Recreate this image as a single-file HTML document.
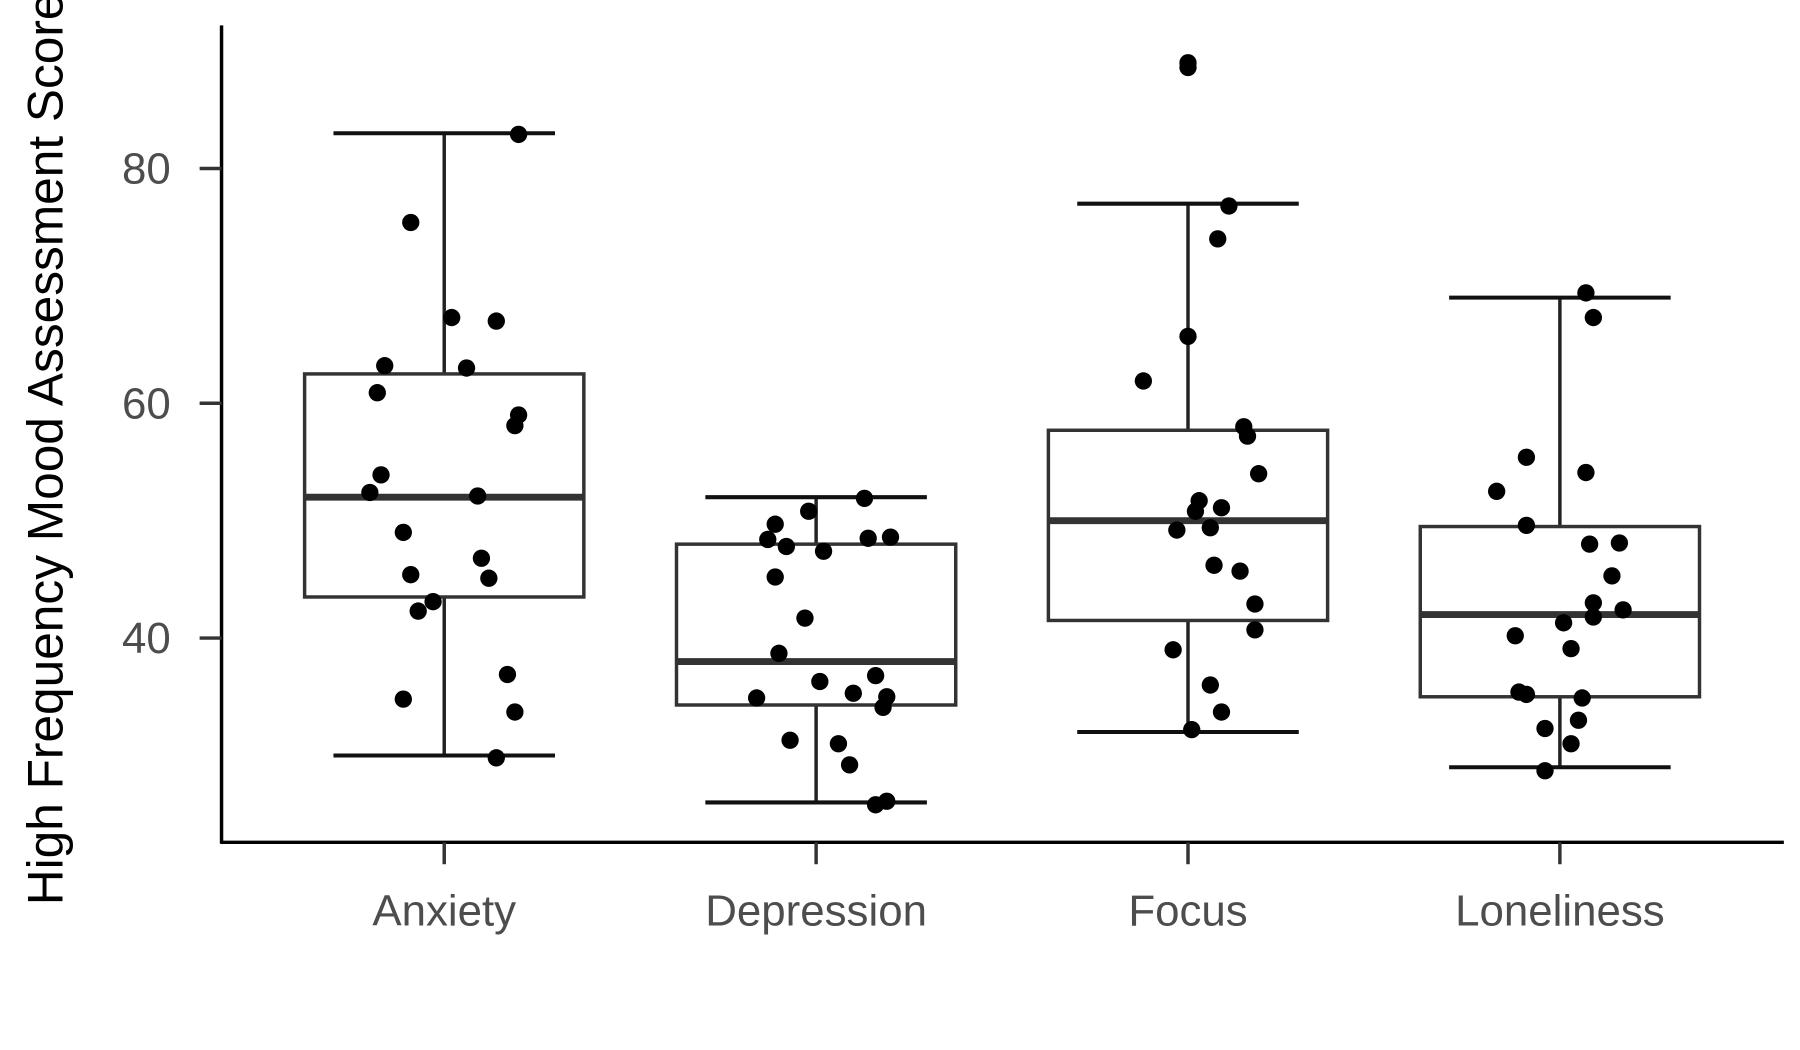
<!DOCTYPE html>
<html><head><meta charset="utf-8"><style>
html,body{margin:0;padding:0;background:#fff;width:1800px;height:1050px;overflow:hidden}
svg{display:block}
</style></head><body>
<svg id="chart" width="1800" height="1050" viewBox="0 0 1560 910" xmlns="http://www.w3.org/2000/svg">
<rect width="1560" height="910" fill="#fff"/>
<g id="axes"></g><g id="boxes"></g><g id="points"></g>
</svg>
<script>
const categories = ["Anxiety","Depression","Focus","Loneliness"];
const whiskerLow = [30, 26, 32, 29];
const q1 = [43.5, 34.3, 41.5, 35];
const medians = [52, 38, 50, 42];
const q3 = [62.5, 48, 57.7, 49.5];
const whiskerHigh = [83, 52, 77, 69];
const yTicks = [40, 60, 80];
const anxietyValues = [82.9,75.4,67.3,67.0,63.2,63.0,60.9,59.0,58.1,53.9,52.4,52.1,49.0,46.8,45.4,45.1,43.1,42.3,36.9,34.8,33.7,29.8];
const anxietyJitter = [.20,-.09,.02,.14,-.16,.06,-.18,.20,.19,-.17,-.20,.09,-.11,.10,-.09,.12,-.03,-.07,.17,-.11,.19,.14];
const depressionValues = [51.9,50.8,49.7,48.4,48.5,48.6,47.8,47.4,45.2,41.7,38.7,36.8,36.3,34.9,35.3,35.0,34.1,31.3,31.0,29.2,25.8,26.1];
const depressionJitter = [.13,-.02,-.11,-.13,.14,.20,-.08,.02,-.11,-.03,-.10,.16,.01,-.16,.10,.19,.18,-.07,.06,.09,.16,.19];
const focusValues = [89.0,88.6,76.8,74.0,65.7,61.9,58.0,57.2,54.0,51.7,51.1,50.8,49.2,49.4,46.2,45.7,42.9,40.7,39.0,36.0,33.7,32.2];
const focusJitter = [0,0,.11,.08,0,-.12,.15,.16,.19,.03,.09,.02,-.03,.06,.07,.14,.18,.18,-.04,.06,.09,.01];
const lonelinessValues = [69.4,67.3,55.4,54.1,52.5,49.6,48.0,48.1,45.3,43.0,41.8,42.4,41.3,40.2,39.1,35.4,35.2,34.9,33.0,32.3,31.0,28.7];
const lonelinessJitter = [.07,.09,-.09,.07,-.17,-.09,.08,.16,.14,.09,.09,.17,.01,-.12,.03,-.11,-.09,.06,.05,-.04,.03,-.04];

const NS = "http://www.w3.org/2000/svg";
function y(v){ return 553 - (v - 40) * 10.175; }
function x(i){ return 385 + i * 322.3; }
function mk(tag, attrs, parent){ const e = document.createElementNS(NS, tag); for (const k in attrs) e.setAttribute(k, attrs[k]); parent.appendChild(e); return e; }
const axes = document.getElementById('axes'), boxes = document.getElementById('boxes'), pts = document.getElementById('points');

let e = mk('line',{x1:192,y1:22,x2:192,y2:731,stroke:'#000','stroke-width':3},axes);
 
e = mk('line',{x1:191,y1:730,x2:1546,y2:730,stroke:'#000','stroke-width':3},axes);
 
yTicks.forEach(t => {
  const tk = mk('line',{x1:173,y1:y(t),x2:192,y2:y(t),stroke:'#333','stroke-width':3},axes);
   
  const lb = mk('text',{x:148,y:y(t)+13,'text-anchor':'end','font-family':'Liberation Sans, sans-serif','font-size':38,fill:'#4d4d4d'},axes);
  lb.textContent = t;
   
});
categories.forEach((c,i) => {
  const tk = mk('line',{x1:x(i),y1:730,x2:x(i),y2:749,stroke:'#333','stroke-width':3},axes);
   
  const lb = mk('text',{x:x(i),y:802,'text-anchor':'middle','font-family':'Liberation Sans, sans-serif','font-size':38,fill:'#4d4d4d'},axes);
  lb.textContent = c;
   
});
const yt = mk('text',{x:0,y:0,transform:'translate(54,389) rotate(-90)','text-anchor':'middle','font-family':'Liberation Sans, sans-serif','font-size':43,fill:'#000'},axes);
yt.textContent = 'High Frequency Mood Assessment Score';
 

categories.forEach((c,i) => {
  const cx = x(i), hw = 121, cw = 96;
  const g = mk('g',{},boxes);
   
  mk('line',{x1:cx,y1:y(whiskerHigh[i]),x2:cx,y2:y(q3[i]),stroke:'#222','stroke-width':3},g);
  mk('line',{x1:cx,y1:y(q1[i]),x2:cx,y2:y(whiskerLow[i]),stroke:'#222','stroke-width':3},g);
  mk('line',{x1:cx-cw,y1:y(whiskerHigh[i]),x2:cx+cw,y2:y(whiskerHigh[i]),stroke:'#111','stroke-width':3.5},g);
  mk('line',{x1:cx-cw,y1:y(whiskerLow[i]),x2:cx+cw,y2:y(whiskerLow[i]),stroke:'#111','stroke-width':3.5},g);
  mk('rect',{x:cx-hw,y:y(q3[i]),width:2*hw,height:y(q1[i])-y(q3[i]),fill:'#fff',stroke:'#333','stroke-width':3},g);
  mk('line',{x1:cx-hw,y1:y(medians[i]),x2:cx+hw,y2:y(medians[i]),stroke:'#333','stroke-width':6},g);
});
const allVals = [anxietyValues, depressionValues, focusValues, lonelinessValues];
const allJit = [anxietyJitter, depressionJitter, focusJitter, lonelinessJitter];
allVals.forEach((vals,i) => {
  vals.forEach((v,j) => {
    const p = mk('circle',{cx:x(i + allJit[i][j]),cy:y(v),r:7.5,fill:'#000'},pts);
    
    
  });
});
</script>
</body></html>
